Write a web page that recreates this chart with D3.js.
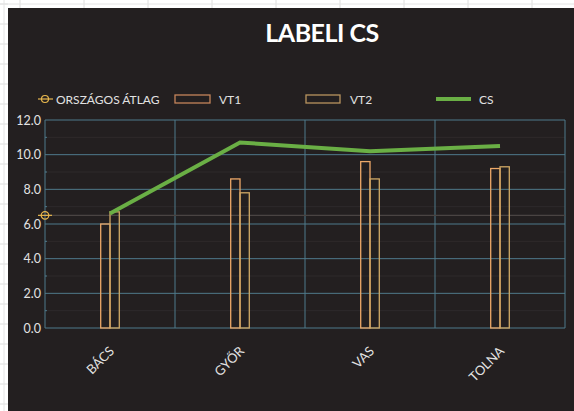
<!DOCTYPE html>
<html>
<head>
<meta charset="utf-8">
<script src="https://cdn.jsdelivr.net/npm/d3@7"></script>
<style>
  html, body { margin: 0; padding: 0; background: #fff; }
  svg { display: block; }
  text { font-family: Lato, "Open Sans", sans-serif; }
</style>
</head>
<body>
<div id="chart"></div>
<script>
var categories = ["BÁCS", "GYŐR", "VAS", "TOLNA"]
var vt1Values = [6.0, 8.6, 9.6, 9.2]
var vt2Values = [6.7, 7.8, 8.6, 9.3]
var csValues = [6.6, 10.7, 10.2, 10.5]
var orszagosAtlag = 6.5
var yTicks = [0, 2, 4, 6, 8, 10, 12]
var seriesNames = ["VT1", "VT2"]

function drawChart() {
  var dimensions = {
    width: 574,
    height: 411,
    margin: { top: 120, right: 9, bottom: 83, left: 45 }
  }
  dimensions.boundedWidth = dimensions.width - dimensions.margin.left - dimensions.margin.right
  dimensions.boundedHeight = dimensions.height - dimensions.margin.top - dimensions.margin.bottom

  var bg = '#231f20'
  var gridColour = '#4f7a8b'
  var minorColour = '#2e2a2b'
  var textColour = '#e2e2e2'

  var wrapper = d3.select("#chart")
    .append("svg")
    .attr("width", dimensions.width)
    .attr("height", dimensions.height)

  // spreadsheet behind the chart
  var sheet = wrapper.append("g")
  d3.range(0, 574, 64).forEach(function(x) {
    sheet.append("line").attr("x1", x + 20).attr("x2", x + 20).attr("y1", 0).attr("y2", 8)
      .attr("stroke", "#dcdcdc")
  })
  d3.range(4, 411, 20).forEach(function(y) {
    sheet.append("line").attr("x1", 0).attr("x2", 8).attr("y1", y).attr("y2", y)
      .attr("stroke", "#dcdcdc")
  })
  sheet.append("line").attr("x1", 0).attr("x2", 574).attr("y1", 4).attr("y2", 4).attr("stroke", "#e4e4e4")
  sheet.append("line").attr("x1", 4).attr("x2", 4).attr("y1", 0).attr("y2", 411).attr("stroke", "#e4e4e4")

  wrapper.append("rect")
    .attr("x", 8).attr("y", 8)
    .attr("width", dimensions.width - 8)
    .attr("height", dimensions.height - 8)
    .attr("fill", bg)

  wrapper.append("text")
    .attr("x", 322).attr("y", 42)
    .attr("text-anchor", "middle")
    .attr("fill", "#ffffff")
    .style("font-size", "25px")
    .style("font-weight", "bold")
    .style("letter-spacing", "-0.5px")
    .text("LABELI CS")

  var bounds = wrapper.append("g")
    .attr("transform", `translate(${dimensions.margin.left},${dimensions.margin.top})`)

  var xScale = d3.scaleBand()
    .domain(categories)
    .range([0, dimensions.boundedWidth])
    .padding(0)

  var barScale = d3.scaleBand()
    .domain(seriesNames)
    .range([-9.3, 9.3])

  var yScale = d3.scaleLinear()
    .domain([0, 12])
    .range([dimensions.boundedHeight, 0])

  // minor grid
  bounds.append("g")
    .selectAll("line")
    .data(d3.range(1, 12, 2))
    .enter().append("line")
    .attr("x1", 0).attr("x2", dimensions.boundedWidth)
    .attr("y1", d => yScale(d)).attr("y2", d => yScale(d))
    .attr("stroke", minorColour)
    .attr("stroke-width", 1)

  // major horizontal grid
  bounds.append("g")
    .selectAll("line")
    .data(yTicks)
    .enter().append("line")
    .attr("x1", 0).attr("x2", dimensions.boundedWidth)
    .attr("y1", d => yScale(d)).attr("y2", d => yScale(d))
    .attr("stroke", gridColour)
    .attr("stroke-width", 1)

  // vertical grid at category boundaries
  var bounds_x = categories.map(d => xScale(d)).concat([dimensions.boundedWidth])
  bounds.append("g")
    .selectAll("line")
    .data(bounds_x)
    .enter().append("line")
    .attr("x1", d => d).attr("x2", d => d)
    .attr("y1", 0).attr("y2", dimensions.boundedHeight)
    .attr("stroke", gridColour)
    .attr("stroke-width", 1)

  // national average line
  bounds.append("line")
    .attr("x1", 0).attr("x2", dimensions.boundedWidth)
    .attr("y1", yScale(orszagosAtlag)).attr("y2", yScale(orszagosAtlag))
    .attr("stroke", "#4a4443")
    .attr("stroke-width", 1.2)

  // y axis
  var yAxisGenerator = d3.axisLeft(yScale)
    .tickValues(yTicks)
    .tickFormat(d3.format(".1f"))
    .tickSize(0)
    .tickPadding(4)

  var yAxis = bounds.append("g").call(yAxisGenerator)
  yAxis.select(".domain").remove()
  yAxis.selectAll("text")
    .attr("fill", textColour)
    .style("font-size", "12.5px")
    .style("font-family", "Lato, sans-serif")

  // minor ticks on the left axis
  bounds.append("g")
    .selectAll("line")
    .data(d3.range(1, 12, 2))
    .enter().append("line")
    .attr("x1", 0).attr("x2", 2)
    .attr("y1", d => yScale(d)).attr("y2", d => yScale(d))
    .attr("stroke", gridColour)

  // x axis labels
  var xAxisGenerator = d3.axisBottom(xScale).tickSize(0).tickPadding(0)
  var xAxis = bounds.append("g")
    .attr("transform", `translate(0,${dimensions.boundedHeight})`)
    .call(xAxisGenerator)
  xAxis.select(".domain").remove()
  xAxis.selectAll("text")
    .attr("fill", textColour)
    .style("font-size", "13px")
    .style("font-family", "Lato, sans-serif")
    .attr("text-anchor", "end")
    .attr("dy", 0)
    .attr("transform", "translate(5,24) rotate(-45)")

  // bars
  var barData = []
  categories.forEach(function(c, i) {
    barData.push({ category: c, series: "VT1", value: vt1Values[i] })
    barData.push({ category: c, series: "VT2", value: vt2Values[i] })
  })
  var barColour = { VT1: "#eda868", VT2: "#cfa865" }

  bounds.selectAll(".bar")
    .data(barData)
    .enter().append("rect")
    .attr("class", "bar")
    .attr("x", d => xScale(d.category) + xScale.bandwidth() / 2 + barScale(d.series))
    .attr("y", d => yScale(d.value))
    .attr("width", barScale.bandwidth())
    .attr("height", d => yScale(0) - yScale(d.value))
    .attr("fill", "none")
    .attr("stroke", d => barColour[d.series])
    .attr("stroke-width", 1.3)

  // CS line
  var line = d3.line()
    .x((d, i) => xScale(categories[i]) + xScale.bandwidth() / 2)
    .y(d => yScale(d))

  bounds.append("path")
    .datum(csValues)
    .attr("d", line)
    .attr("fill", "none")
    .attr("stroke", "#6aaf45")
    .attr("stroke-width", 4)

  // national average marker
  var avgY = yScale(orszagosAtlag)
  bounds.append("line")
    .attr("x1", -7).attr("x2", 7)
    .attr("y1", avgY).attr("y2", avgY)
    .attr("stroke", "#e8b84e").attr("stroke-width", 1.2)
  bounds.append("circle")
    .attr("cx", 0).attr("cy", avgY).attr("r", 3.8)
    .attr("fill", "none")
    .attr("stroke", "#e8b84e").attr("stroke-width", 1.2)

  // legend
  var legend = wrapper.append("g").attr("transform", "translate(0,99)")
  legend.append("line").attr("x1", 38).attr("x2", 53).attr("y1", 0).attr("y2", 0)
    .attr("stroke", "#e8b84e").attr("stroke-width", 1.2)
  legend.append("circle").attr("cx", 45).attr("cy", 0).attr("r", 3.5)
    .attr("fill", "none").attr("stroke", "#e8b84e").attr("stroke-width", 1.2)
  legend.append("text").attr("x", 56).attr("y", 4.5).text("ORSZÁGOS ÁTLAG")

  legend.append("rect").attr("x", 175).attr("y", -4).attr("width", 35).attr("height", 8)
    .attr("fill", "none").attr("stroke", "#c4845a").attr("stroke-width", 1.3)
  legend.append("text").attr("x", 219).attr("y", 4.5).text("VT1")

  legend.append("rect").attr("x", 306).attr("y", -4).attr("width", 34).attr("height", 8)
    .attr("fill", "none").attr("stroke", "#b8945e").attr("stroke-width", 1.3)
  legend.append("text").attr("x", 350).attr("y", 4.5).text("VT2")

  legend.append("line").attr("x1", 436).attr("x2", 471).attr("y1", 0).attr("y2", 0)
    .attr("stroke", "#6aaf45").attr("stroke-width", 4)
  legend.append("text").attr("x", 479).attr("y", 4.5).text("CS")

  legend.selectAll("text")
    .attr("fill", textColour)
    .style("font-size", "12px")
}

drawChart()
</script>
</body>
</html>
